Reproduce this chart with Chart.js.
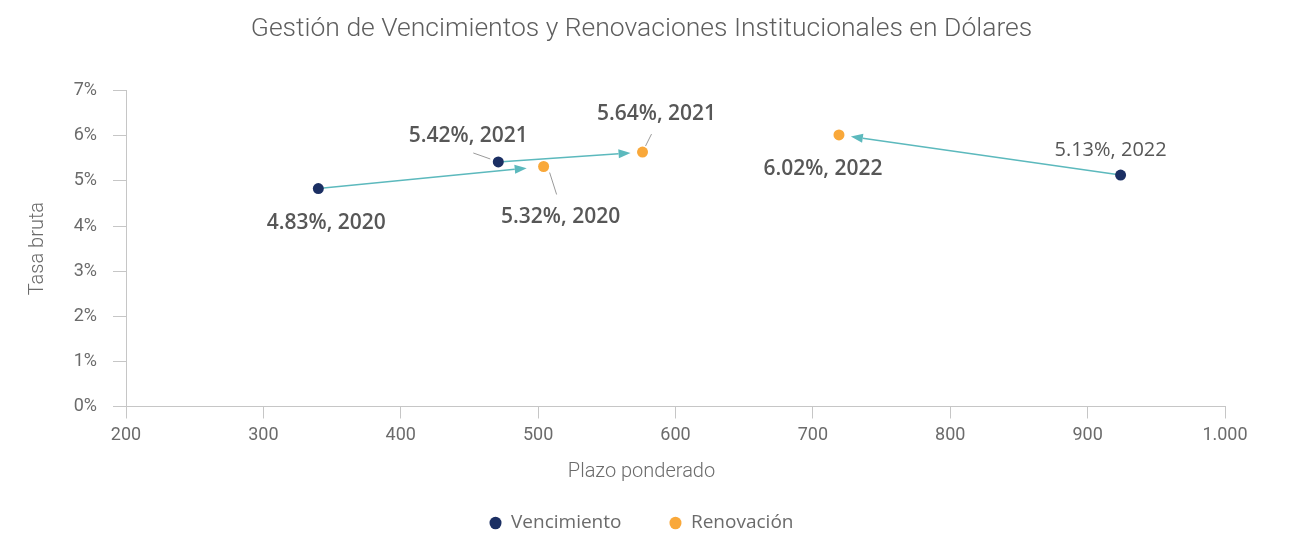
<!DOCTYPE html>
<html lang="es">
<head>
<meta charset="utf-8">
<title>Gestión de Vencimientos y Renovaciones Institucionales en Dólares</title>
<script src="https://cdn.jsdelivr.net/npm/chart.js@4.4.1/dist/chart.umd.min.js"></script>
<style>
  html, body { margin: 0; padding: 0; background: #fff; }
</style>
</head>
<body>
<canvas id="chart" width="1291" height="535"></canvas>
<script>
// Values
const years = ['2020', '2021', '2022'];
const vencPlazo = [340, 471, 924];
const vencTasa = [4.83, 5.42, 5.13];
const renovPlazo = [504, 576, 719];
const renovTasa = [5.32, 5.64, 6.02];

const chartTitle = 'Gestión de Vencimientos y Renovaciones Institucionales en Dólares';
const xTitle = 'Plazo ponderado';
const yTitle = 'Tasa bruta';

// Colours
const NAVY = '#1b2f63';
const ORANGE = '#f9a83a';
const TEAL = '#5cb9bd';
const AXIS = '#c6c6c6';
const TEXT = '#575757';
const TICK = '#6b6b6b';

// Label placement (pixel offsets from the point), one row per dataset
const labelStyle = [
    [ {dx: 8, dy: 34, bold: true, lead: null},
      {dx: -30, dy: -26, bold: true, lead: [-25, -9, -8, -3]},
      {dx: -10, dy: -25, bold: false, lead: null} ],
    [ {dx: 17, dy: 51, bold: true, lead: [6, 6, 13, 28]},
      {dx: 14, dy: -38, bold: true, lead: [9, -18, 3, -6]},
      {dx: -16, dy: 34, bold: true, lead: null} ]
];
const arrowGap = [17, 12, 12];

const toPoints = (xs, ys) => xs.map((x, i) => ({ x: x, y: ys[i] }));

// arrows from each vencimiento to its renovacion
const arrowPlugin = {
    id: 'arrows',
    beforeDatasetsDraw(chart) {
        const ctx = chart.ctx;
        const from = chart.getDatasetMeta(0).data;
        const to = chart.getDatasetMeta(1).data;
        ctx.save();
        ctx.strokeStyle = TEAL;
        ctx.fillStyle = TEAL;
        ctx.lineWidth = 1.5;
        from.forEach((p, i) => {
            const q = to[i];
            const dx = q.x - p.x, dy = q.y - p.y;
            const len = Math.hypot(dx, dy);
            const ux = dx / len, uy = dy / len;
            const ex = q.x - ux * arrowGap[i], ey = q.y - uy * arrowGap[i];
            const head = 12, half = 4.5;
            ctx.beginPath();
            ctx.moveTo(p.x, p.y);
            ctx.lineTo(ex - ux * head, ey - uy * head);
            ctx.stroke();
            ctx.beginPath();
            ctx.moveTo(ex, ey);
            ctx.lineTo(ex - ux * head - uy * half, ey - uy * head + ux * half);
            ctx.lineTo(ex - ux * head + uy * half, ey - uy * head - ux * half);
            ctx.closePath();
            ctx.fill();
        });
        ctx.restore();
    }
};

// point labels with small leader lines
const labelPlugin = {
    id: 'pointLabels',
    afterDatasetsDraw(chart) {
        const ctx = chart.ctx;
        ctx.save();
        ctx.textAlign = 'center';
        ctx.textBaseline = 'middle';
        chart.data.datasets.forEach((ds, di) => {
            chart.getDatasetMeta(di).data.forEach((p, i) => {
                const st = labelStyle[di][i];
                if (st.lead) {
                    ctx.strokeStyle = '#9a9a9a';
                    ctx.lineWidth = 1;
                    ctx.beginPath();
                    ctx.moveTo(p.x + st.lead[0], p.y + st.lead[1]);
                    ctx.lineTo(p.x + st.lead[2], p.y + st.lead[3]);
                    ctx.stroke();
                }
                ctx.fillStyle = TEXT;
                ctx.font = st.bold ? '600 21px "Open Sans"' : '400 20px "Open Sans"';
                const txt = ds.data[i].y.toFixed(2) + '%, ' + years[i];
                ctx.fillText(txt, p.x + st.dx, p.y + st.dy);
            });
        });
        ctx.restore();
    }
};

// axis titles
const axisTitlePlugin = {
    id: 'axisTitles',
    afterDraw(chart) {
        const ctx = chart.ctx;
        const area = chart.chartArea;
        ctx.save();
        ctx.fillStyle = TICK;
        ctx.font = '300 20px Roboto';
        ctx.textAlign = 'center';
        ctx.textBaseline = 'middle';
        ctx.fillText(xTitle, chart.width / 2 - 4, 472);
        ctx.translate(38, (area.top + area.bottom) / 2);
        ctx.rotate(-Math.PI / 2);
        ctx.fillText(yTitle, 0, 0);
        ctx.restore();
    }
};

const ctx = document.getElementById('chart').getContext('2d');
new Chart(ctx, {
    type: 'scatter',
    data: {
        datasets: [
            {
                label: 'Vencimiento',
                data: toPoints(vencPlazo, vencTasa),
                backgroundColor: NAVY,
                borderColor: NAVY,
                borderWidth: 0,
                pointRadius: 5.5,
                pointHoverRadius: 5.5
            },
            {
                label: 'Renovación',
                data: toPoints(renovPlazo, renovTasa),
                backgroundColor: ORANGE,
                borderColor: ORANGE,
                borderWidth: 0,
                pointRadius: 5.5,
                pointHoverRadius: 5.5
            }
        ]
    },
    options: {
        responsive: false,
        devicePixelRatio: 1,
        animation: false,
        layout: { padding: { left: 0, right: 8, top: 0, bottom: -7.5 } },
        plugins: {
            tooltip: { enabled: false },
            title: {
                display: true,
                text: chartTitle,
                color: '#5e5e5e',
                font: { family: 'Roboto', size: 26.5, weight: '300', lineHeight: 1.2 },
                padding: { top: 13, bottom: 45.9 }
            },
            legend: {
                position: 'bottom',
                labels: {
                    usePointStyle: true,
                    pointStyle: 'circle',
                    boxHeight: 9,
                    pointStyleWidth: 12,
                    padding: 48,
                    color: TICK,
                    font: { family: 'Open Sans', size: 19 }
                }
            }
        },
        scales: {
            x: {
                type: 'linear',
                min: 200,
                max: 1000,
                afterFit: s => { s.height = 59; },
                grid: { drawOnChartArea: false, color: AXIS, tickLength: 12 },
                border: { color: AXIS },
                ticks: {
                    stepSize: 100,
                    padding: 6,
                    color: TICK,
                    font: { family: 'Roboto', size: 18 },
                    callback: v => String(v).replace(/\B(?=(\d{3})+(?!\d))/g, '.')
                }
            },
            y: {
                min: 0,
                max: 7,
                afterFit: s => { s.width = 126; },
                grid: { drawOnChartArea: false, color: AXIS, tickLength: 13 },
                border: { color: AXIS },
                ticks: {
                    stepSize: 1,
                    padding: 16,
                    color: TICK,
                    font: { family: 'Roboto', size: 18 },
                    callback: v => v + '%'
                }
            },
            // empty right-hand axis, only keeps room to the right of the plot
            yRight: {
                type: 'linear',
                position: 'right',
                afterFit: s => { s.width = 58; },
                grid: { display: false },
                border: { display: false },
                ticks: { display: false }
            }
        }
    },
    plugins: [arrowPlugin, labelPlugin, axisTitlePlugin]
});
</script>
</body>
</html>
